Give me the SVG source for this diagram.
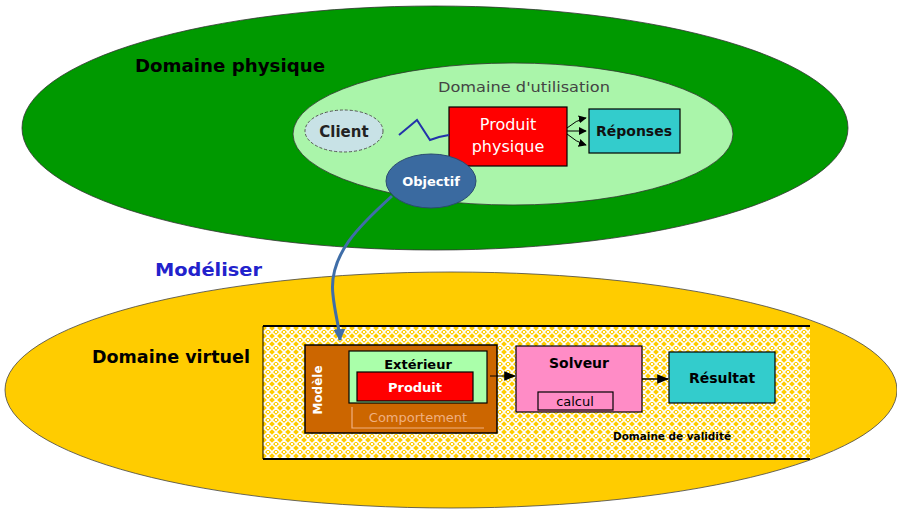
<svg xmlns="http://www.w3.org/2000/svg" width="897" height="516" viewBox="0 0 897 516">
<defs>
<style>
.t{font-family:"DejaVu Sans","Liberation Sans",sans-serif}
.b{font-weight:bold}
.box{stroke:#000;stroke-width:1.2}
</style>
<pattern id="lace" width="8" height="8" patternUnits="userSpaceOnUse">
<rect width="8" height="8" fill="#ffcc00"/>
<path d="M0,4 L4,0 L8,4 L4,8 Z" fill="none" stroke="#fff" stroke-width="1.6"/>
<rect x="3" y="3" width="2" height="2" fill="#fff"/>
</pattern>
<marker id="ah" viewBox="0 0 10 10" refX="9" refY="5" markerWidth="4" markerHeight="4" orient="auto" markerUnits="strokeWidth">
<path d="M0,0 L10,5 L0,10 z" fill="#3f6ea8"/>
</marker>
<marker id="bk" viewBox="0 0 10 10" refX="9" refY="5" markerWidth="8" markerHeight="8" orient="auto" markerUnits="userSpaceOnUse">
<path d="M0,0 L10,5 L0,10 z" fill="#000"/>
</marker>
<marker id="bk2" viewBox="0 0 10 10" refX="9" refY="5" markerWidth="12" markerHeight="12" orient="auto" markerUnits="userSpaceOnUse">
<path d="M0,1 L10,5 L0,9 z" fill="#000"/>
</marker>
</defs>
<rect width="897" height="516" fill="#fff"/>

<g id="domaine-physique">
<ellipse cx="435" cy="128" rx="413" ry="122" fill="#009900" stroke="#333" stroke-width="0.8"/>
<text class="t b" x="135" y="72" font-size="18" fill="#000" textLength="190" lengthAdjust="spacingAndGlyphs">Domaine physique</text>
</g>

<g id="domaine-utilisation">
<ellipse cx="513" cy="134" rx="220" ry="71" fill="#aaf5aa" stroke="#333" stroke-width="0.8"/>
<text class="t" x="524" y="92" font-size="14" fill="#444" text-anchor="middle" textLength="172" lengthAdjust="spacingAndGlyphs">Domaine d'utilisation</text>
</g>

<g id="client">
<ellipse cx="344" cy="131" rx="39" ry="21" fill="#c8e2e6" stroke="#555" stroke-width="1" stroke-dasharray="3,2"/>
<text class="t b" x="344" y="137" font-size="15" fill="#222" text-anchor="middle">Client</text>
</g>

<g id="produit-physique">
<rect x="449" y="107" width="118" height="59" fill="#ff0000" class="box"/>
<text class="t" x="508" y="130" font-size="16" fill="#fff" text-anchor="middle">Produit</text>
<text class="t" x="508" y="152" font-size="16" fill="#fff" text-anchor="middle">physique</text>
</g>

<g id="reponses">
<rect x="589" y="109" width="91" height="44" fill="#33cccc" class="box"/>
<text class="t b" x="634" y="136" font-size="14" fill="#111" text-anchor="middle">Réponses</text>
</g>

<g id="modeliser">
<text class="t b" x="155" y="276" font-size="18" fill="#2222cc" textLength="107" lengthAdjust="spacingAndGlyphs">Modéliser</text>
</g>

<g id="domaine-virtuel">
<ellipse cx="451" cy="390" rx="446" ry="118" fill="#ffcc00" stroke="#444" stroke-width="0.8"/>
<text class="t b" x="92" y="363" font-size="18" fill="#000" textLength="158" lengthAdjust="spacingAndGlyphs">Domaine virtuel</text>
</g>

<g id="domaine-validite">
<rect x="263" y="326" width="547" height="133" fill="url(#lace)"/>
<line x1="263" y1="326" x2="810" y2="326" stroke="#000" stroke-width="2"/>
<line x1="263" y1="459" x2="810" y2="459" stroke="#000" stroke-width="2"/>
<line x1="263" y1="326" x2="263" y2="459" stroke="#000" stroke-width="1"/>
<text class="t b" x="672" y="440" font-size="10" fill="#000" text-anchor="middle" textLength="118" lengthAdjust="spacingAndGlyphs">Domaine de validité</text>
</g>

<g id="modele">
<rect x="305" y="345" width="192" height="88" fill="#cc6600" stroke="#000" stroke-width="1.5"/>
<text class="t b" x="0" y="0" font-size="12" fill="#fff" text-anchor="middle" transform="translate(322,390) rotate(-90)">Modèle</text>
<path d="M352,407 V428 H484" fill="none" stroke="#f0b080" stroke-width="1.2"/>
<text class="t" x="418" y="422" font-size="13" fill="#f0b080" text-anchor="middle">Comportement</text>
</g>

<g id="exterieur">
<rect x="349" y="351" width="138" height="52" fill="#aaffaa" class="box"/>
<text class="t b" x="418" y="369" font-size="13" fill="#000" text-anchor="middle">Extérieur</text>
</g>

<g id="produit">
<rect x="357" y="372" width="116" height="29" fill="#ff0000" class="box"/>
<text class="t b" x="415" y="392" font-size="13" fill="#fff" text-anchor="middle">Produit</text>
</g>

<g id="solveur">
<rect x="516" y="346" width="126" height="66" fill="#ff8cc6" class="box"/>
<text class="t b" x="579" y="368" font-size="14" fill="#000" text-anchor="middle">Solveur</text>
<rect x="538" y="392" width="75" height="18" fill="none" class="box"/>
<text class="t" x="575" y="406" font-size="13" fill="#000" text-anchor="middle">calcul</text>
</g>

<g id="resultat">
<rect x="669" y="352" width="106" height="51" fill="#33cccc" class="box"/>
<text class="t b" x="722" y="383" font-size="14" fill="#000" text-anchor="middle">Résultat</text>
</g>

<g id="objectif">
<ellipse cx="431" cy="181" rx="45" ry="27" fill="#3a6aa0" stroke="#2a4a70" stroke-width="1"/>
<text class="t b" x="431" y="186" font-size="13" fill="#fff" text-anchor="middle">Objectif</text>
</g>

<g id="connectors" fill="none">
<path d="M399,135 L417,120 L430,140 L439,137 L449,135" stroke="#2233aa" stroke-width="2"/>
<path d="M567,128 Q576,120 586,118" stroke="#000" stroke-width="1" marker-end="url(#bk)"/>
<path d="M567,131 L586,131" stroke="#000" stroke-width="1" marker-end="url(#bk)"/>
<path d="M567,134 Q576,142 586,145" stroke="#000" stroke-width="1" marker-end="url(#bk)"/>
<path d="M392,196 C360,225 328,255 333,295 C335,315 339,325 340,340" stroke="#3f6ea8" stroke-width="3" marker-end="url(#ah)"/>
<path d="M490,376 L515,376" stroke="#000" stroke-width="1" marker-end="url(#bk2)"/>
<path d="M642,379 L668,379" stroke="#000" stroke-width="1.5" marker-end="url(#bk2)"/>
</g>
</svg>
